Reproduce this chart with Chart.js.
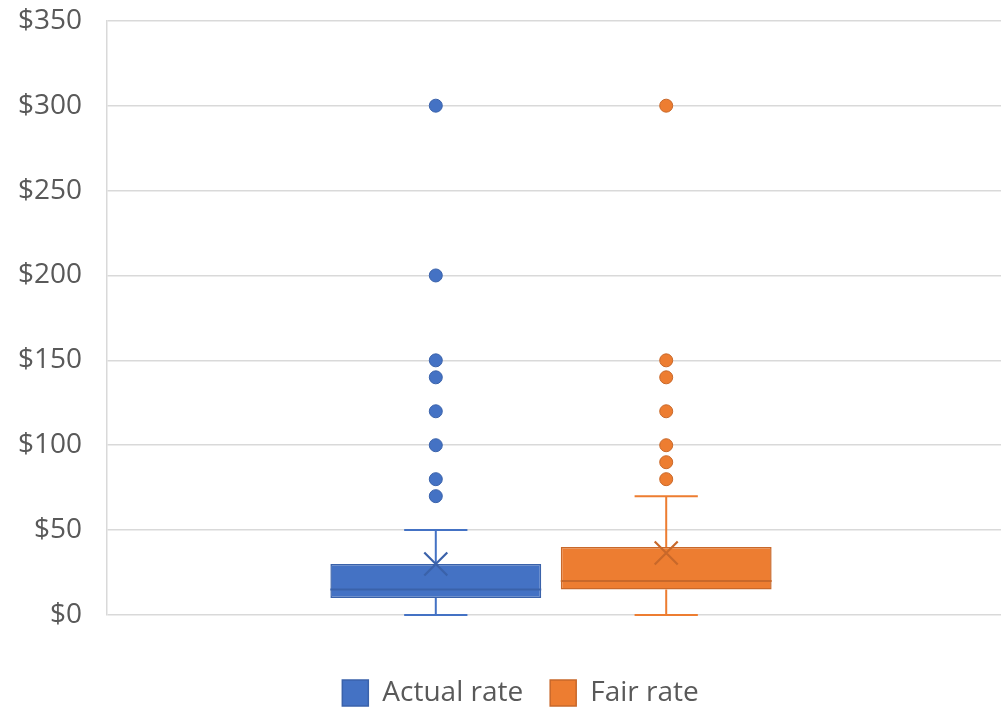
<!DOCTYPE html>
<html><head><meta charset="utf-8">
<script src="https://cdn.jsdelivr.net/npm/chart.js@4.4.1/dist/chart.umd.min.js"></script>
<style>html,body{margin:0;padding:0;background:#fff}#wrap{width:1001px;height:711px}</style>
</head><body><div id="wrap"><canvas id="c" width="1001" height="711"></canvas></div>
<script>
const categories = [''];
const seriesNames = ['Actual rate', 'Fair rate'];
const boxQ1 = [10, 15];
const boxQ3 = [30, 40];
const medians = [15, 20];
const means = [30, 36.5];
const whiskerLow = [0, 0];
const whiskerHigh = [50, 70];
const actualOutliers = [70, 80, 100, 120, 140, 150, 200, 300];
const fairOutliers = [80, 90, 100, 120, 140, 150, 300];
const outliers = [actualOutliers, fairOutliers];
const yTickValues = [0, 50, 100, 150, 200, 250, 300, 350];
const tickPrefix = '$';

const fills = ['#4472C4', '#ED7D31'];
const strokes = ['#3A62AA', '#C8682A'];

const boxExtras = {
  id: 'boxExtras',
  afterLayout(chart) {
    const lg = chart.legend;
    if (lg) { lg.left += 13; lg.right += 13; }
  },
  afterDatasetsDraw(chart) {
    const ctx = chart.ctx, ys = chart.scales.y;
    chart.data.datasets.forEach((ds, i) => {
      const meta = chart.getDatasetMeta(i);
      meta.data.forEach((bar) => {
        const cx = bar.x, w = bar.width;
        const cap = w * 0.3;
        ctx.save();
        ctx.strokeStyle = fills[i];
        ctx.lineWidth = 2;
        const pQ3 = ys.getPixelForValue(boxQ3[i]);
        const pQ1 = ys.getPixelForValue(boxQ1[i]);
        const pHi = ys.getPixelForValue(whiskerHigh[i]);
        const pLo = ys.getPixelForValue(whiskerLow[i]);
        ctx.beginPath();
        ctx.moveTo(cx, pQ3); ctx.lineTo(cx, pHi);
        ctx.moveTo(cx - cap / 2, pHi); ctx.lineTo(cx + cap / 2, pHi);
        ctx.moveTo(cx, pQ1); ctx.lineTo(cx, pLo);
        ctx.moveTo(cx - cap / 2, pLo); ctx.lineTo(cx + cap / 2, pLo);
        ctx.stroke();
        ctx.strokeStyle = strokes[i];
        const pMed = ys.getPixelForValue(medians[i]);
        ctx.beginPath();
        ctx.moveTo(cx - w / 2, pMed); ctx.lineTo(cx + w / 2, pMed);
        ctx.stroke();
        const pMean = ys.getPixelForValue(means[i]);
        const r = 11.5;
        ctx.strokeStyle = strokes[i];
        ctx.lineWidth = 2.2;
        ctx.beginPath();
        ctx.moveTo(cx - r, pMean - r); ctx.lineTo(cx + r, pMean + r);
        ctx.moveTo(cx - r, pMean + r); ctx.lineTo(cx + r, pMean - r);
        ctx.stroke();
        ctx.fillStyle = fills[i];
        ctx.strokeStyle = strokes[i];
        ctx.lineWidth = 1;
        outliers[i].forEach(v => {
          ctx.beginPath();
          ctx.arc(cx, ys.getPixelForValue(v), 6.5, 0, Math.PI * 2);
          ctx.fill();
          ctx.stroke();
        });
        ctx.restore();
      });
    });
  }
};

new Chart(document.getElementById('c'), {
  type: 'bar',
  data: {
    labels: categories,
    datasets: seriesNames.map((name, i) => ({
      label: name,
      data: categories.map(() => [boxQ1[i], boxQ3[i]]),
      backgroundColor: fills[i],
      borderColor: strokes[i],
      borderWidth: 1.5,
      borderSkipped: false,
      barPercentage: 0.915,
      categoryPercentage: 0.5155
    }))
  },
  options: {
    responsive: false,
    animation: false,
    devicePixelRatio: 1,
    layout: { padding: { top: 0, right: 0, left: 14, bottom: -6 } },
    plugins: {
      legend: {
        position: 'bottom',
        labels: {
          font: { family: 'Open Sans', size: 28 },
          color: '#595959',
          boxWidth: 26,
          boxHeight: 26,
          padding: 27
        }
      },
      tooltip: { enabled: false }
    },
    scales: {
      x: {
        display: true,
        grid: { display: false },
        border: { display: false },
        ticks: { display: false },
        afterBuildTicks(s) { s._valueRange = 1.0068; },
        afterFit(s) { s.height = 37; }
      },
      y: {
        min: 0, max: 350,
        afterBuildTicks(scale) { scale.ticks = yTickValues.map(v => ({ value: v })); },
        ticks: {
          callback: v => tickPrefix + v,
          font: { family: 'Open Sans', size: 28 },
          color: '#595959',
          padding: 4
        },
        grid: { color: '#D9D9D9', lineWidth: 1.5, drawTicks: true, tickLength: 21, tickColor: 'rgba(0,0,0,0)' },
        border: { display: true, color: '#D9D9D9', width: 1.5 }
      }
    }
  },
  plugins: [boxExtras]
});
</script>
</body></html>
